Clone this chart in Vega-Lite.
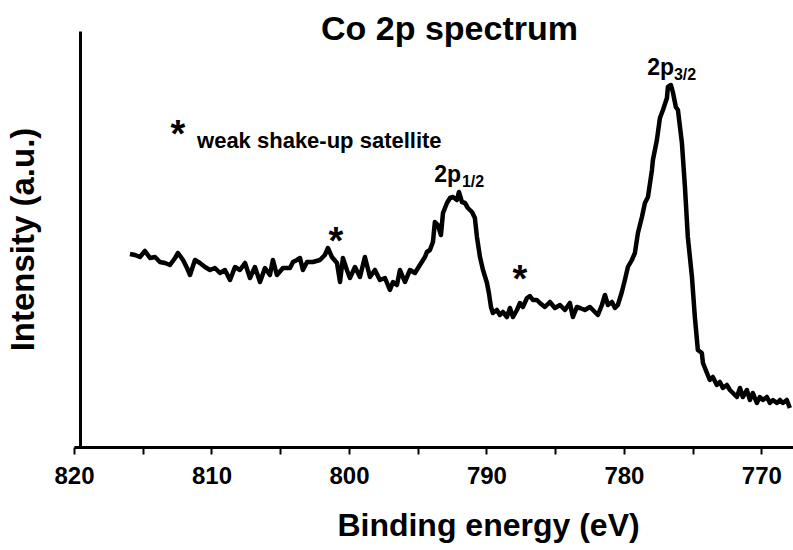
{
  "$schema": "https://vega.github.io/schema/vega-lite/v6.json",
  "width": 719,
  "height": 416,
  "autosize": {"type": "none"},
  "padding": {"left": 74, "top": 31, "right": 0, "bottom": 103},
  "background": "white",
  "config": {"view": {"stroke": null}, "font": "Liberation Sans"},
  "title": {"text": "Co 2p spectrum", "fontSize": 34, "fontWeight": "bold", "color": "black", "anchor": "middle", "dx": 16, "dy": 32, "baseline": "alphabetic", "offset": -11, "font": "Liberation Sans"},
  "datasets": {
    "spectrum": [
      {"energy": 815.93, "intensity": 193}, {"energy": 815.56, "intensity": 192}, {"energy": 815.20, "intensity": 190},
      {"energy": 814.84, "intensity": 196}, {"energy": 814.47, "intensity": 189}, {"energy": 814.11, "intensity": 190},
      {"energy": 813.75, "intensity": 185}, {"energy": 813.38, "intensity": 184}, {"energy": 813.02, "intensity": 182},
      {"energy": 812.65, "intensity": 189}, {"energy": 812.44, "intensity": 194}, {"energy": 812.07, "intensity": 187},
      {"energy": 811.78, "intensity": 179}, {"energy": 811.56, "intensity": 172}, {"energy": 811.20, "intensity": 187},
      {"energy": 810.84, "intensity": 184}, {"energy": 810.47, "intensity": 180}, {"energy": 810.11, "intensity": 177},
      {"energy": 809.75, "intensity": 179}, {"energy": 809.38, "intensity": 174}, {"energy": 809.02, "intensity": 177},
      {"energy": 808.65, "intensity": 167}, {"energy": 808.29, "intensity": 180}, {"energy": 807.93, "intensity": 177},
      {"energy": 807.56, "intensity": 184}, {"energy": 807.20, "intensity": 169}, {"energy": 806.84, "intensity": 180},
      {"energy": 806.47, "intensity": 165}, {"energy": 806.11, "intensity": 179}, {"energy": 805.75, "intensity": 172},
      {"energy": 805.53, "intensity": 187}, {"energy": 805.24, "intensity": 172}, {"energy": 804.80, "intensity": 179},
      {"energy": 804.29, "intensity": 179}, {"energy": 804.07, "intensity": 185}, {"energy": 803.78, "intensity": 187},
      {"energy": 803.56, "intensity": 189}, {"energy": 803.35, "intensity": 177}, {"energy": 803.05, "intensity": 185},
      {"energy": 802.62, "intensity": 185}, {"energy": 802.11, "intensity": 187}, {"energy": 801.75, "intensity": 192},
      {"energy": 801.53, "intensity": 199}, {"energy": 801.24, "intensity": 190}, {"energy": 800.87, "intensity": 184},
      {"energy": 800.65, "intensity": 165}, {"energy": 800.44, "intensity": 189}, {"energy": 800.15, "intensity": 177},
      {"energy": 799.93, "intensity": 169}, {"energy": 799.56, "intensity": 180}, {"energy": 799.20, "intensity": 170},
      {"energy": 798.84, "intensity": 190}, {"energy": 798.47, "intensity": 170}, {"energy": 798.11, "intensity": 177},
      {"energy": 797.75, "intensity": 167}, {"energy": 797.38, "intensity": 169}, {"energy": 797.02, "intensity": 157},
      {"energy": 796.80, "intensity": 165}, {"energy": 796.51, "intensity": 162}, {"energy": 796.29, "intensity": 177},
      {"energy": 795.93, "intensity": 165}, {"energy": 795.56, "intensity": 177}, {"energy": 795.20, "intensity": 174},
      {"energy": 794.84, "intensity": 182}, {"energy": 794.47, "intensity": 190}, {"energy": 794.33, "intensity": 195},
      {"energy": 794.11, "intensity": 197}, {"energy": 793.89, "intensity": 205}, {"energy": 793.75, "intensity": 225},
      {"energy": 793.53, "intensity": 222}, {"energy": 793.31, "intensity": 212}, {"energy": 793.16, "intensity": 234},
      {"energy": 792.87, "intensity": 244}, {"energy": 792.65, "intensity": 249}, {"energy": 792.44, "intensity": 250},
      {"energy": 792.15, "intensity": 247}, {"energy": 792.00, "intensity": 255}, {"energy": 791.78, "intensity": 245},
      {"energy": 791.56, "intensity": 244}, {"energy": 791.35, "intensity": 239}, {"energy": 791.05, "intensity": 235},
      {"energy": 790.84, "intensity": 229}, {"energy": 790.69, "intensity": 210}, {"energy": 790.47, "intensity": 190},
      {"energy": 790.25, "intensity": 177}, {"energy": 789.96, "intensity": 164}, {"energy": 789.82, "intensity": 154},
      {"energy": 789.67, "intensity": 140}, {"energy": 789.53, "intensity": 134}, {"energy": 789.24, "intensity": 137},
      {"energy": 789.02, "intensity": 132}, {"energy": 788.80, "intensity": 135}, {"energy": 788.51, "intensity": 130},
      {"energy": 788.29, "intensity": 139}, {"energy": 788.07, "intensity": 130}, {"energy": 787.78, "intensity": 137},
      {"energy": 787.56, "intensity": 144}, {"energy": 787.35, "intensity": 140}, {"energy": 787.05, "intensity": 149},
      {"energy": 786.84, "intensity": 151}, {"energy": 786.62, "intensity": 147}, {"energy": 786.33, "intensity": 147},
      {"energy": 786.11, "intensity": 144}, {"energy": 785.75, "intensity": 140}, {"energy": 785.38, "intensity": 145},
      {"energy": 785.02, "intensity": 139}, {"energy": 784.65, "intensity": 142}, {"energy": 784.29, "intensity": 137},
      {"energy": 783.93, "intensity": 144}, {"energy": 783.71, "intensity": 130}, {"energy": 783.42, "intensity": 140},
      {"energy": 783.20, "intensity": 139}, {"energy": 782.84, "intensity": 137}, {"energy": 782.47, "intensity": 140},
      {"energy": 782.11, "intensity": 135}, {"energy": 781.89, "intensity": 132}, {"energy": 781.60, "intensity": 142},
      {"energy": 781.38, "intensity": 152}, {"energy": 781.16, "intensity": 142}, {"energy": 780.87, "intensity": 145},
      {"energy": 780.65, "intensity": 139}, {"energy": 780.44, "intensity": 142}, {"energy": 780.15, "intensity": 155},
      {"energy": 779.93, "intensity": 167}, {"energy": 779.71, "intensity": 180}, {"energy": 779.42, "intensity": 187},
      {"energy": 779.20, "intensity": 194}, {"energy": 778.98, "intensity": 214}, {"energy": 778.69, "intensity": 230},
      {"energy": 778.47, "intensity": 244}, {"energy": 778.25, "intensity": 250}, {"energy": 777.96, "intensity": 277},
      {"energy": 777.89, "intensity": 287}, {"energy": 777.60, "intensity": 307}, {"energy": 777.38, "intensity": 329},
      {"energy": 777.16, "intensity": 337}, {"energy": 776.87, "intensity": 349}, {"energy": 776.80, "intensity": 360},
      {"energy": 776.58, "intensity": 362}, {"energy": 776.44, "intensity": 355}, {"energy": 776.22, "intensity": 340},
      {"energy": 776.07, "intensity": 337}, {"energy": 775.78, "intensity": 304}, {"energy": 775.56, "intensity": 260},
      {"energy": 775.35, "intensity": 210}, {"energy": 775.05, "intensity": 170}, {"energy": 774.84, "intensity": 130},
      {"energy": 774.62, "intensity": 97}, {"energy": 774.33, "intensity": 94}, {"energy": 774.25, "intensity": 84},
      {"energy": 773.96, "intensity": 74}, {"energy": 773.75, "intensity": 67}, {"energy": 773.53, "intensity": 70},
      {"energy": 773.24, "intensity": 62}, {"energy": 773.02, "intensity": 65}, {"energy": 772.80, "intensity": 59},
      {"energy": 772.51, "intensity": 62}, {"energy": 772.29, "intensity": 57}, {"energy": 772.07, "intensity": 54},
      {"energy": 771.78, "intensity": 50}, {"energy": 771.56, "intensity": 59}, {"energy": 771.35, "intensity": 50},
      {"energy": 771.05, "intensity": 57}, {"energy": 770.84, "intensity": 47}, {"energy": 770.62, "intensity": 54},
      {"energy": 770.33, "intensity": 44}, {"energy": 770.11, "intensity": 50}, {"energy": 769.89, "intensity": 47},
      {"energy": 769.60, "intensity": 50}, {"energy": 769.38, "intensity": 44}, {"energy": 769.16, "intensity": 47},
      {"energy": 768.87, "intensity": 44}, {"energy": 768.65, "intensity": 47}, {"energy": 768.44, "intensity": 44},
      {"energy": 768.15, "intensity": 47}, {"energy": 767.93, "intensity": 39}
    ],
    "peaks": [
      {"energy": 793.80, "intensity": 265, "label": "2p"},
      {"energy": 778.30, "intensity": 372, "label": "2p"}
    ],
    "subs": [
      {"energy": 791.78, "intensity": 260, "label": "1/2"},
      {"energy": 776.36, "intensity": 367, "label": "3/2"}
    ],
    "stars": [
      {"energy": 800.95, "intensity": 193, "label": "*"},
      {"energy": 787.56, "intensity": 155, "label": "*"},
      {"energy": 812.44, "intensity": 300, "label": "*"}
    ],
    "note": [
      {"energy": 811.05, "intensity": 299, "label": "weak shake-up satellite"}
    ]
  },
  "layer": [
    {
      "data": {"name": "spectrum"},
      "mark": {"type": "line", "color": "black", "strokeWidth": 4.5, "strokeJoin": "round", "clip": true},
      "encoding": {
        "x": {"field": "energy", "type": "quantitative",
          "scale": {"domain": [767.7, 820], "reverse": true, "nice": false, "zero": false},
          "axis": {"title": "Binding energy (eV)", "values": [770, 775, 780, 785, 790, 795, 800, 805, 810, 815, 820],
            "labelExpr": "datum.value % 10 === 0 ? datum.label : ''", "grid": false,
            "domainColor": "black", "domainWidth": 3, "tickColor": "black", "tickWidth": 2, "tickSize": 7,
            "labelFontSize": 24, "labelFont": "Liberation Sans", "labelFontWeight": "bold", "labelColor": "black", "labelPadding": 10, "labelFlush": false, "labelOverlap": false,
            "titleFontSize": 32, "titleFontWeight": "bold", "titleColor": "black", "titlePadding": 22, "titleX": 414, "titleFont": "Liberation Sans"}},
        "y": {"field": "intensity", "type": "quantitative",
          "scale": {"domain": [0, 416], "nice": false, "zero": false},
          "axis": {"title": "Intensity (a.u.)", "labels": false, "ticks": false, "grid": false, "offset": -6,
            "domainColor": "black", "domainWidth": 3,
            "titleFontSize": 33, "titleFontWeight": "bold", "titleColor": "black", "titlePadding": 40, "titleFont": "Liberation Sans"}}
      }
    },
    {
      "data": {"name": "peaks"},
      "mark": {"type": "text", "fontSize": 23, "fontWeight": "bold", "align": "left", "baseline": "alphabetic", "color": "black"},
      "encoding": {
        "x": {"field": "energy", "type": "quantitative", "scale": {"domain": [767.7, 820], "reverse": true, "nice": false, "zero": false}},
        "y": {"field": "intensity", "type": "quantitative", "scale": {"domain": [0, 416], "nice": false, "zero": false}},
        "text": {"field": "label"}
      }
    },
    {
      "data": {"name": "subs"},
      "mark": {"type": "text", "fontSize": 16, "fontWeight": "bold", "align": "left", "baseline": "alphabetic", "color": "black"},
      "encoding": {
        "x": {"field": "energy", "type": "quantitative", "scale": {"domain": [767.7, 820], "reverse": true, "nice": false, "zero": false}},
        "y": {"field": "intensity", "type": "quantitative", "scale": {"domain": [0, 416], "nice": false, "zero": false}},
        "text": {"field": "label"}
      }
    },
    {
      "data": {"name": "stars"},
      "mark": {"type": "text", "fontSize": 38, "fontWeight": "bold", "align": "center", "baseline": "alphabetic", "color": "black"},
      "encoding": {
        "x": {"field": "energy", "type": "quantitative", "scale": {"domain": [767.7, 820], "reverse": true, "nice": false, "zero": false}},
        "y": {"field": "intensity", "type": "quantitative", "scale": {"domain": [0, 416], "nice": false, "zero": false}},
        "text": {"field": "label"}
      }
    },
    {
      "data": {"name": "note"},
      "mark": {"type": "text", "fontSize": 22, "fontWeight": "bold", "align": "left", "baseline": "alphabetic", "color": "black"},
      "encoding": {
        "x": {"field": "energy", "type": "quantitative", "scale": {"domain": [767.7, 820], "reverse": true, "nice": false, "zero": false}},
        "y": {"field": "intensity", "type": "quantitative", "scale": {"domain": [0, 416], "nice": false, "zero": false}},
        "text": {"field": "label"}
      }
    }
  ]
}
